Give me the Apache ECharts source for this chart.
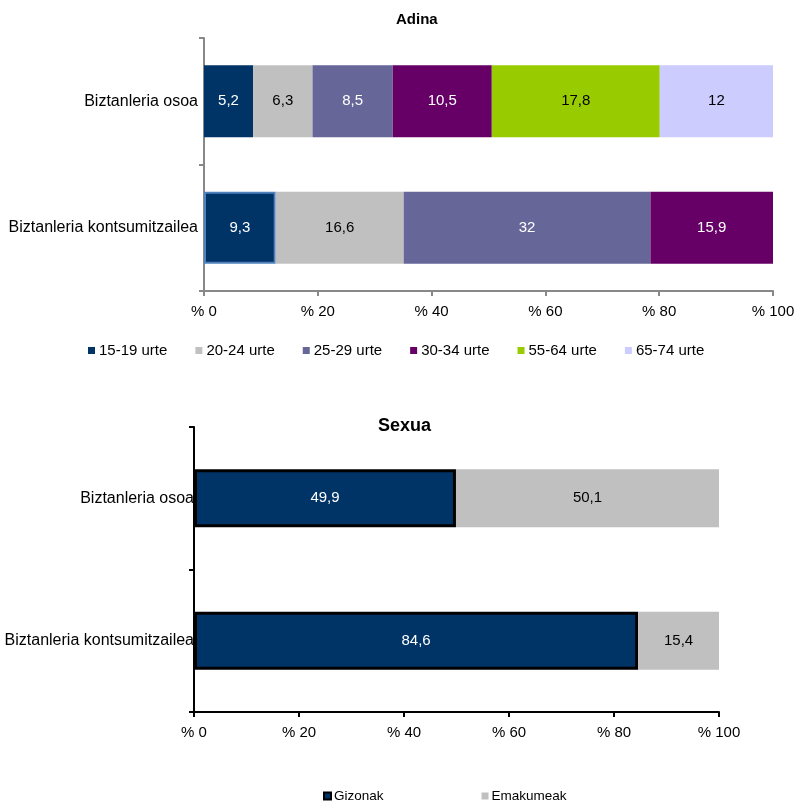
<!DOCTYPE html>
<html>
<head>
<meta charset="utf-8">
<style>html,body{margin:0;padding:0;background:#fff;}#c{width:798px;height:804px;}</style>
<script src="https://cdn.jsdelivr.net/npm/echarts@6/dist/echarts.min.js"></script>
</head>
<body>
<div id="c"></div>
<script>
// ---- data ----
var categories = ['Biztanleria osoa', 'Biztanleria kontsumitzailea'];
var ageGroups = ['15-19 urte', '20-24 urte', '25-29 urte', '30-34 urte', '55-64 urte', '65-74 urte'];
var ageOsoa = [5.2, 6.3, 8.5, 10.5, 17.8, 12];
var ageKontsumitzailea = [9.3, 16.6, 32, 15.9, null, null];
var sexGroups = ['Gizonak', 'Emakumeak'];
var gizonak = [49.9, 84.6];
var emakumeak = [50.1, 15.4];
var xTicks = [0, 20, 40, 60, 80, 100];

// ---- styles ----
var ageColors = ['#003366', '#C0C0C0', '#666699', '#660066', '#99CC00', '#CCCCFF'];
var ageLabelColors = ['#fff', '#000', '#fff', '#fff', '#000', '#000'];
var sexColors = ['#003366', '#C0C0C0'];
var sexLabelColors = ['#fff', '#000'];
var FONT = 'Liberation Sans, Arial, sans-serif';

function fmt(v) { return String(v).replace('.', ','); }
function sum(a) { return a.reduce(function (s, v) { return s + (v == null ? 0 : v); }, 0); }

var ageRows = [ageOsoa, ageKontsumitzailea];
var ageTotals = ageRows.map(sum);
var sexTotals = [gizonak[0] + emakumeak[0], gizonak[1] + emakumeak[1]];

var series = [];
ageGroups.forEach(function (name, i) {
  series.push({
    name: name, type: 'bar', stack: 'age', xAxisIndex: 0, yAxisIndex: 0,
    barWidth: 72,
    itemStyle: { color: ageColors[i] },
    label: {
      show: true, position: 'inside', color: ageLabelColors[i],
      fontFamily: FONT, fontSize: 15,
      formatter: function (p) { return p.data && p.data.raw != null ? fmt(p.data.raw) : ''; }
    },
    data: ageRows.map(function (row, r) {
      var v = row[i];
      if (v == null) return { value: null, raw: null };
      var d = { value: v / ageTotals[r] * 100, raw: v };
      if (i === 0 && r === 1) d.itemStyle = { borderColor: '#4F81BD', borderWidth: 2 };
      return d;
    })
  });
});
[gizonak, emakumeak].forEach(function (arr, i) {
  series.push({
    name: sexGroups[i], type: 'bar', stack: 'sex', xAxisIndex: 1, yAxisIndex: 1,
    barWidth: 58,
    itemStyle: i === 0 ? { color: sexColors[i], borderColor: '#000', borderWidth: 3 } : { color: sexColors[i] },
    label: {
      show: true, position: 'inside', color: sexLabelColors[i],
      fontFamily: FONT, fontSize: 15,
      formatter: function (p) { return fmt(p.data.raw); }
    },
    data: arr.map(function (v, r) { return { value: v / sexTotals[r] * 100, raw: v }; })
  });
});

function xAxis(gi, color, margin) {
  return {
    type: 'value', gridIndex: gi, min: xTicks[0], max: xTicks[xTicks.length - 1], interval: xTicks[1] - xTicks[0],
    axisLine: { show: true, lineStyle: { color: color, width: 2 } },
    axisTick: { show: true, length: 5, lineStyle: { color: color, width: 2 } },
    splitLine: { show: false },
    axisLabel: { color: '#000', fontFamily: FONT, fontSize: 15, margin: margin, formatter: function (v) { return '% ' + v; } }
  };
}
function yAxis(gi, color, margin) {
  return {
    type: 'category', gridIndex: gi, data: categories, inverse: true,
    axisLine: { show: true, lineStyle: { color: color, width: 2 } },
    axisTick: { show: true, length: 5, lineStyle: { color: color, width: 2 } },
    axisLabel: { color: '#000', fontFamily: FONT, fontSize: 16, margin: margin }
  };
}

var option = {
  backgroundColor: '#fff',
  animation: false,
  title: [
    { text: 'Adina', left: 391, top: 7, textStyle: { fontFamily: FONT, fontSize: 15, fontWeight: 'bold', color: '#000' } },
    { text: 'Sexua', left: 373, top: 412, textStyle: { fontFamily: FONT, fontSize: 18, fontWeight: 'bold', color: '#000' } }
  ],
  legend: [
    { data: ageGroups, left: 83, top: 338, itemWidth: 7, itemHeight: 7, itemGap: 28, icon: 'rect',
      textStyle: { fontFamily: FONT, fontSize: 15, color: '#000', padding: [0, 0, 0, -1] } },
    { data: sexGroups, left: 318, top: 784, itemWidth: 7, itemHeight: 7, itemGap: 98, icon: 'rect',
      textStyle: { fontFamily: FONT, fontSize: 13.5, color: '#000', padding: [0, 0, 0, -2] } }
  ],
  grid: [
    { left: 204, top: 38, width: 569, height: 253, containLabel: false },
    { left: 194, top: 427, width: 525, height: 285, containLabel: false }
  ],
  xAxis: [xAxis(0, '#888888', 13), xAxis(1, '#000000', 13)],
  yAxis: [yAxis(0, '#888888', 6), yAxis(1, '#000000', 0)],
  series: series
};
var chart = echarts.init(document.getElementById('c'), null, { renderer: 'canvas' });
chart.setOption(option);
</script>
</body>
</html>
